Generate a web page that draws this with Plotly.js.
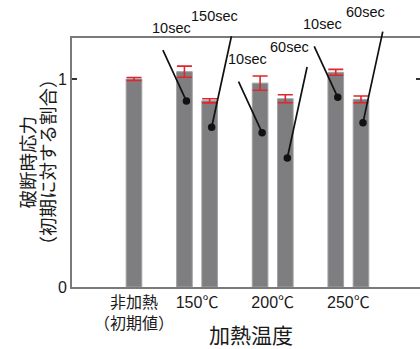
<!DOCTYPE html>
<html>
<head>
<meta charset="utf-8">
<script src="https://cdn.plot.ly/plotly-3.0.1.min.js"></script>
<style>
  html, body { margin: 0; padding: 0; overflow: hidden; background: #ffffff; }
  #chart { width: 422px; height: 349px; }
</style>
</head>
<body>
<div id="chart"></div>
<script>
// Fracture stress after heating, as a ratio of the unheated (initial) value
const groupLabels = ['非加熱<br>（初期値）', '150℃', '200℃', '250℃'];
const heatTimes   = [[''], ['10sec', '150sec'], ['10sec', '60sec'], ['10sec', '60sec']];
const stressRatio = [[1.00], [1.035, 0.895], [0.98, 0.905], [1.032, 0.902]];
const stressError = [[0.007], [0.027, 0.010], [0.034, 0.019], [0.014, 0.016]];
// height on each bar where its heating-time callout points
const calloutY    = [[null], [0.894, 0.768], [0.742, 0.620], [0.912, 0.790]];

const FONT = '"Liberation Sans", Arial, "Noto Sans CJK JP", sans-serif';
const JP_FONT = '"Noto Sans CJK JP", "Liberation Sans", sans-serif';

// bar slots: groups three slots apart, bars of a group side by side
const xs = [], ys = [], errs = [], tickVals = [];
const annotations = [];
stressRatio.forEach((vals, g) => {
  const n = vals.length;
  const slots = vals.map((v, j) => 3 * g - (n - 1) + j);
  tickVals.push(slots.reduce((a, b) => a + b, 0) / n);
  vals.forEach((v, j) => {
    xs.push(slots[j]);
    ys.push(v);
    errs.push(stressError[g][j]);
    const label = heatTimes[g][j];
    if (!label) return;
    const short = j === 0;
    // leader line ending in a dot on the bar
    annotations.push({
      x: slots[j], y: calloutY[g][j], xref: 'x', yref: 'y',
      text: ' ', font: { size: 1 }, borderpad: 0,
      showarrow: true, arrowhead: 6, arrowsize: 1.1, arrowwidth: 1.7,
      arrowcolor: '#111111', standoff: 0, xshift: 2,
      ax: short ? -24 : 20, ay: short ? -52 : -92
    });
    // time label above the leader line
    annotations.push({
      x: slots[j], y: calloutY[g][j], xref: 'x', yref: 'y',
      text: label, showarrow: false,
      font: { family: FONT, size: 14.5, color: '#111111' },
      xshift: short ? -13 : 4.5, yshift: short ? 73.5 : 111
    });
  });
});

// two-line vertical y-axis title
annotations.push({
  xref: 'paper', yref: 'paper', x: 0, y: 0.5, xanchor: 'center', yanchor: 'middle',
  xshift: -46, textangle: -90, showarrow: false,
  text: '破断時応力', font: { family: JP_FONT, size: 18.5, color: '#1a1a1a' }
});
annotations.push({
  xref: 'paper', yref: 'paper', x: 0, y: 0.5, xanchor: 'center', yanchor: 'middle',
  xshift: -26, textangle: -90, showarrow: false,
  text: '（初期に対する割合）', font: { family: JP_FONT, size: 18.5, color: '#1a1a1a' }
});
// x-axis title
annotations.push({
  xref: 'paper', yref: 'paper', x: 0.5, y: 0, xanchor: 'center', yanchor: 'middle',
  xshift: 4, yshift: -46.5, showarrow: false,
  text: '加熱温度', font: { family: JP_FONT, size: 21, color: '#1a1a1a' }
});

const trace = {
  type: 'bar',
  x: xs, y: ys,
  width: 0.62,
  marker: { color: '#7e7e80', line: { color: '#a2a2a4', width: 1 } },
  error_y: { type: 'data', array: errs, visible: true, color: '#e0262c', thickness: 1.6, width: 7.5 },
  hoverinfo: 'skip'
};

const layout = {
  width: 422, height: 349,
  margin: { l: 72, r: 1, t: 38, b: 62 },
  paper_bgcolor: '#ffffff', plot_bgcolor: '#ffffff',
  showlegend: false,
  font: { family: FONT, color: '#1a1a1a' },
  xaxis: {
    range: [-2.458, 11.38],
    tickmode: 'array', tickvals: tickVals, ticktext: groupLabels,
    tickangle: 0, ticks: '', showgrid: false, zeroline: false,
    showline: true, linecolor: '#7a7a7a', linewidth: 2, mirror: true,
    tickfont: { family: FONT, size: 16, color: '#1a1a1a' }
  },
  yaxis: {
    range: [0, 1.197],
    tickmode: 'array', tickvals: [0, 1], ticktext: ['0', '1'],
    ticks: 'inside', ticklen: 5, tickwidth: 1.5, tickcolor: '#333333',
    showgrid: false, zeroline: false,
    showline: true, linecolor: '#7a7a7a', linewidth: 2, mirror: 'ticks',
    tickfont: { family: FONT, size: 16, color: '#1a1a1a' }
  },
  annotations: annotations
};

Plotly.newPlot('chart', [trace], layout, { staticPlot: true, displayModeBar: false });
</script>
</body>
</html>
